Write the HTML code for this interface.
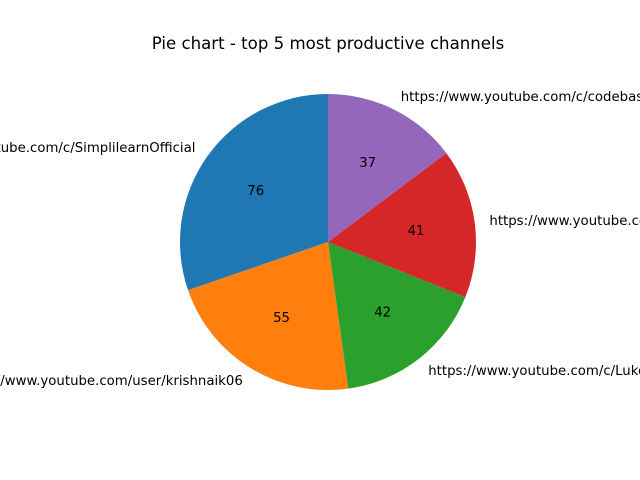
<!DOCTYPE html>
<html><head><meta charset="utf-8"><style>
html,body{margin:0;padding:0;background:#fff;overflow:hidden}
svg{display:block;font-family:"DejaVu Sans","Liberation Sans",sans-serif}
</style></head><body>
<svg id="chart" width="640" height="480" viewBox="0 0 640 480">
<rect width="640" height="480" fill="#fff"/>
<text x="328" y="49" text-anchor="middle" font-size="16.6" fill="#000">Pie chart - top 5 most productive channels</text>
<g id="slices"></g><g id="labels"></g>
</svg>
<script>
const categories = ["https://www.youtube.com/c/SimplilearnOfficial","https://www.youtube.com/user/krishnaik06","https://www.youtube.com/c/LukeBarousse","https://www.youtube.com/c/Codebasics","https://www.youtube.com/c/codebasics"];
const values = [76, 55, 42, 41, 37];
const colors = ["#1f77b4","#ff7f0e","#2ca02c","#d62728","#9467bd"];
const cx = 328, cy = 242, R = 148;
const NS = "http://www.w3.org/2000/svg";
const total = values.reduce((a,b)=>a+b,0);
const sG = document.getElementById('slices'), lG = document.getElementById('labels');
function pt(deg, r){ const a = deg*Math.PI/180; return [cx + r*Math.cos(a), cy - r*Math.sin(a)]; }
let start = 90;
values.forEach((v,i)=>{
  const sweep = v/total*360, end = start+sweep;
  const [x1,y1] = pt(start,R), [x2,y2] = pt(end,R);
  const p = document.createElementNS(NS,'path');
  p.setAttribute('d',`M${cx},${cy} L${x1},${y1} A${R},${R} 0 ${sweep>180?1:0} 0 ${x2},${y2} Z`);
  p.setAttribute('fill',colors[i]);
  
  
  sG.appendChild(p);
  const mid = (start+end)/2;
  const [px,py] = pt(mid,R*0.6);
  const t = document.createElementNS(NS,'text');
  t.setAttribute('x',px); t.setAttribute('y',py+1);
  t.setAttribute('text-anchor','middle'); t.setAttribute('dominant-baseline','central');
  t.setAttribute('font-size','13.3');
  t.textContent = v;
  
  
  lG.appendChild(t);
  const [lx,ly] = pt(mid,R*1.1);
  const l = document.createElementNS(NS,'text');
  l.setAttribute('x',lx); l.setAttribute('y',ly+1);
  l.setAttribute('text-anchor', lx < cx ? 'end' : 'start');
  l.setAttribute('dominant-baseline','central');
  l.setAttribute('font-size','13.3');
  l.textContent = categories[i];
  
  
  lG.appendChild(l);
  start = end;
});
</script>
</body></html>
